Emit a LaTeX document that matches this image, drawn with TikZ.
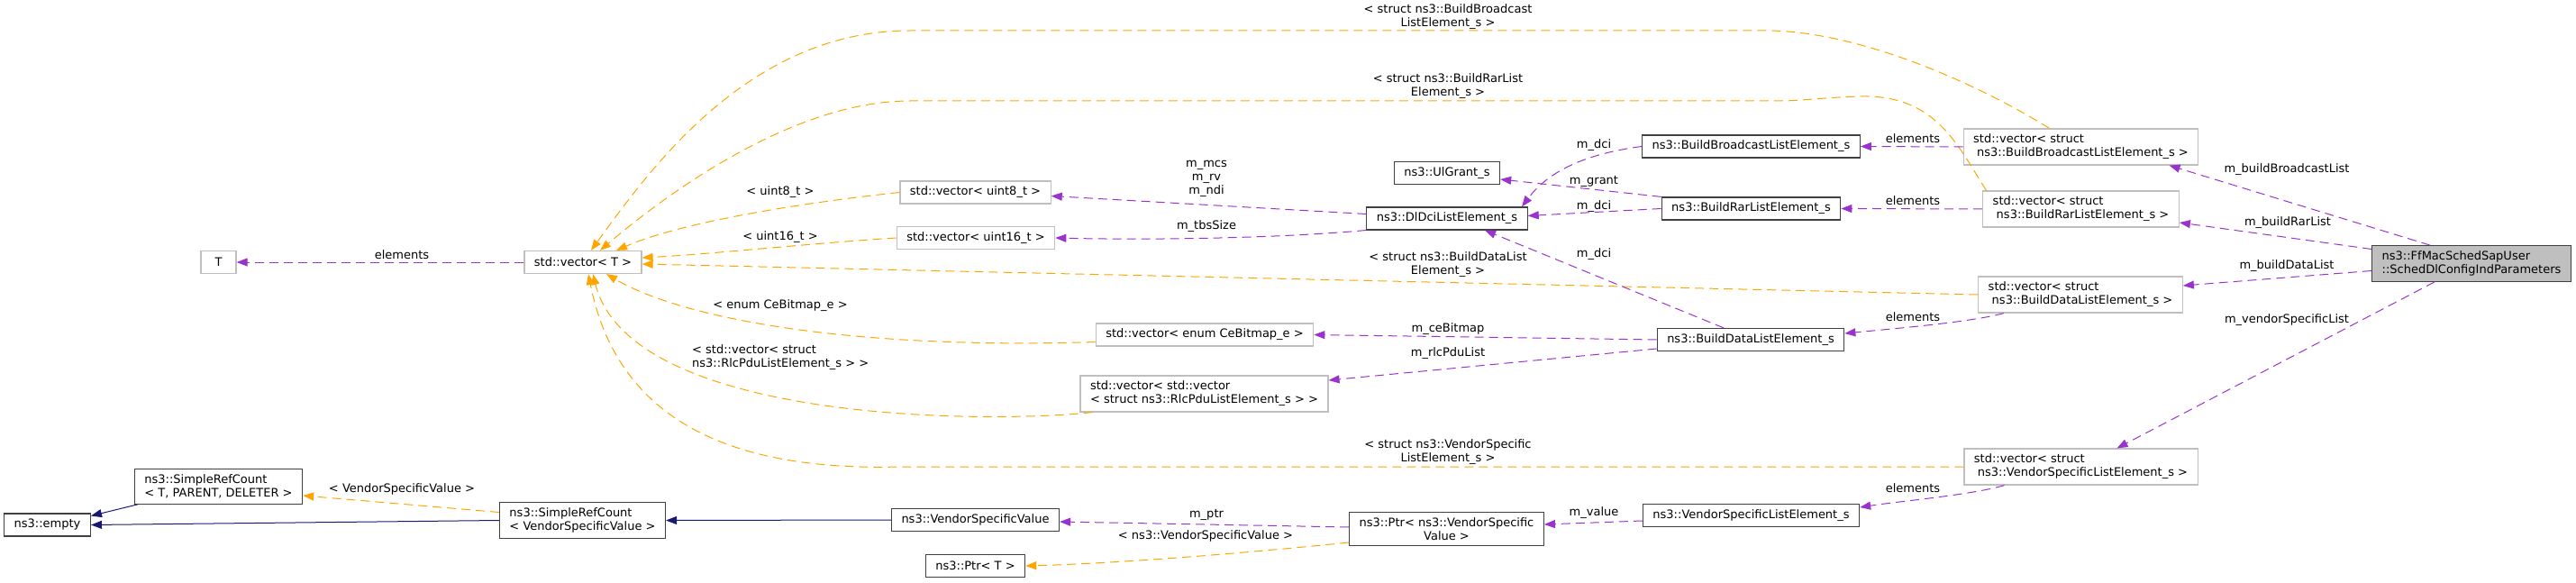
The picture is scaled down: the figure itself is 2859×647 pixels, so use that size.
\documentclass[tikz,border=0pt]{standalone}
\usepackage{fontspec}
\setmainfont{DejaVu Sans}
\usepackage{xcolor}
\usetikzlibrary{arrows.meta}

\definecolor{dxpurple}{HTML}{9A32CD}
\definecolor{dxorange}{HTML}{FFA500}
\definecolor{dxblue}{HTML}{191970}
\definecolor{dxgrey}{HTML}{BFBFBF}
\definecolor{dxdark}{HTML}{404040}

\begin{document}
\begin{tikzpicture}[x=1pt, y=-1pt, >={Triangle[length=12pt, width=9pt]},
    font=\fontsize{13}{15}\selectfont,
    boite/.style={draw=dxdark, line width=1.2pt, fill=white, inner xsep=11pt,
                  inner ysep=6pt, minimum height=25pt},
    gabarit/.style={boite, draw=dxgrey},
    racine/.style={boite, fill=dxgrey},
    membre/.style={->, dxpurple, line width=1pt, dash pattern=on 10pt off 6pt},
    modele/.style={->, dxorange, line width=1pt, dash pattern=on 10pt off 6pt},
    herite/.style={->, dxblue, line width=1pt},
    etiq/.style={inner sep=0pt, align=center}]
  \useasboundingbox (0,0) rectangle (2859,647);

  % Classes de base
  \node[boite] (vide) at (52.5,582.5) {ns3::empty};
  \node[boite, align=left] (srcT) at (242.5,540) {ns3::SimpleRefCount\\< T, PARENT, DELETER >};
  \node[gabarit, minimum width=39pt] (tT) at (242.5,291) {T};
  \node[gabarit] (vecT) at (647,291) {std::vector< T >};
  \node[boite, align=left] (srcVSV) at (646.5,577.5) {ns3::SimpleRefCount\\< VendorSpecificValue >};

  % Vecteurs simples
  \node[gabarit] (vecU8) at (1082.5,213.5) {std::vector< uint8\_t >};
  \node[gabarit] (vecU16) at (1083,264) {std::vector< uint16\_t >};
  \node[gabarit] (vecCe) at (1337,371.5) {std::vector< enum CeBitmap\_e >};
  \node[gabarit, align=left] (vecRlc) at (1336.5,437)
      {std::vector< std::vector\\< struct ns3::RlcPduListElement\_s > >};
  \node[boite] (vsv) at (1082.5,577) {ns3::VendorSpecificValue};
  \node[boite] (ptrT) at (1082.5,628) {ns3::Ptr< T >};

  % Structures
  \node[boite] (ulgrant) at (1606,192) {ns3::UlGrant\_s};
  \node[boite] (dldci) at (1606,242.5) {ns3::DlDciListElement\_s};
  \node[boite, align=center] (ptrVSV) at (1605.5,587) {ns3::Ptr< ns3::VendorSpecific\\Value >};
  \node[boite] (bbElem) at (1943.5,162.5) {ns3::BuildBroadcastListElement\_s};
  \node[boite] (brElem) at (1943.5,231.5) {ns3::BuildRarListElement\_s};
  \node[boite] (bdElem) at (1943,377) {ns3::BuildDataListElement\_s};
  \node[boite] (vsElem) at (1943.5,572) {ns3::VendorSpecificListElement\_s};

  % Listes
  \node[gabarit, align=left] (vecBB) at (2309.5,163)
      {std::vector< struct\\\hspace*{4pt}ns3::BuildBroadcastListElement\_s >};
  \node[gabarit, align=left] (vecBR) at (2309.5,232)
      {std::vector< struct\\\hspace*{4pt}ns3::BuildRarListElement\_s >};
  \node[gabarit, align=left] (vecBD) at (2309,327)
      {std::vector< struct\\\hspace*{4pt}ns3::BuildDataListElement\_s >};
  \node[gabarit, align=left] (vecVS) at (2309.5,518)
      {std::vector< struct\\\hspace*{4pt}ns3::VendorSpecificListElement\_s >};

  % Classe documentee
  \node[racine, align=left] (root) at (2743,292.5)
      {ns3::FfMacSchedSapUser\\::SchedDlConfigIndParameters};

  % Heritage
  \draw[herite] ([xshift=4pt]srcT.south west) -- ([yshift=10pt]vide.east);
  \draw[herite] (srcVSV.west) -- (vide.east);
  \draw[herite] (vsv.west) -- (srcVSV.east);

  % Instanciations de modeles
  \draw[modele] ([xshift=-35pt]vecBB.north) .. controls (2190,90) and (2060,34) .. (1960,34)
      -- (1010,34) .. controls (830,34) and (720,190) .. ([xshift=9pt]vecT.north);
  \draw[modele] ([xshift=-105pt]vecBR.north) .. controls (2172,160) and (2148,105) .. (2065,107)
      .. controls (2025,108) and (2000,112) .. (1975,112) -- (1010,112)
      .. controls (880,112) and (740,215) .. ([xshift=19pt]vecT.north);
  \draw[modele] (vecU8.west) .. controls (900,224) and (760,245) .. ([xshift=37pt]vecT.north);
  \draw[modele] (vecU16.west) .. controls (900,270) and (790,282) .. ([yshift=5pt]vecT.east);
  \draw[modele] (vecBD.west) -- ([yshift=-2pt]vecT.east);
  \draw[modele] ([yshift=-8pt]vecCe.west) .. controls (950,388) and (760,355) .. ([xshift=26pt]vecT.south);
  \draw[modele] ([xshift=-124pt]vecRlc.south) .. controls (1100,470) and (700,470) .. ([xshift=11pt]vecT.south);
  \draw[modele] (vecVS.west) -- (1000,518) .. controls (850,522) and (690,490) .. ([xshift=6pt]vecT.south);
  \draw[modele] ([yshift=-15pt]ptrVSV.west) .. controls (1400,612) and (1250,625) .. (ptrT.east);
  \draw[modele] ([yshift=9pt]srcVSV.west) -- ([yshift=-10pt]srcT.east);

  % Membres
  \draw[membre] (vecT.west) -- (tT.east);
  \draw[membre] ([xshift=-46pt]root.north) -- ([xshift=98pt]vecBB.south);
  \draw[membre] ([yshift=16pt]root.west) -- ([yshift=-15pt]vecBR.east);
  \draw[membre] ([yshift=-8pt]root.west) -- ([yshift=10pt]vecBD.east);
  \draw[membre] ([xshift=-41pt]root.south) -- ([xshift=40pt]vecVS.north);
  \draw[membre] (vecBB.west) -- (bbElem.east);
  \draw[membre] (vecBR.west) -- (brElem.east);
  \draw[membre] ([xshift=-85pt]vecBD.south) .. controls (2190,357) and (2110,364) .. ([yshift=7pt]bdElem.east);
  \draw[membre] ([xshift=-85pt]vecVS.south) .. controls (2190,549) and (2110,556) .. ([yshift=9pt]vsElem.east);
  \draw[membre] (bbElem.west) .. controls (1750,172) and (1715,195) .. ([xshift=83pt]dldci.north);
  \draw[membre] (brElem.north west) -- ([yshift=-7pt]ulgrant.east);
  \draw[membre] (brElem.west) -- ([yshift=3pt]dldci.east);
  \draw[membre] ([xshift=-30pt]bdElem.north) -- ([xshift=42pt]dldci.south);
  \draw[membre] (bdElem.west) -- (vecCe.east);
  \draw[membre] ([yshift=-10pt]bdElem.west) -- ([yshift=15pt]vecRlc.east);
  \draw[membre] ([yshift=5pt]dldci.west) -- ([yshift=-4pt]vecU8.east);
  \draw[membre] ([yshift=-13pt]dldci.west) .. controls (1400,266) and (1250,266) .. (vecU16.east);
  \draw[membre] ([yshift=-6pt]vsElem.west) -- ([yshift=5pt]ptrVSV.east);
  \draw[membre] ([yshift=2pt]ptrVSV.west) -- ([yshift=-2pt]vsv.east);

  % Etiquettes
  \node[etiq] (lbBB) at (1607,19) {< struct ns3::BuildBroadcast\\ListElement\_s >};
  \node[etiq] (lbBR) at (1607,96) {< struct ns3::BuildRarList\\Element\_s >};
  \node[etiq] (lbBD) at (1607,293.5) {< struct ns3::BuildDataList\\Element\_s >};
  \node[etiq] (lbVS) at (1607,501.5) {< struct ns3::VendorSpecific\\ListElement\_s >};
  \node[etiq] (lbU8) at (866,213) {< uint8\_t >};
  \node[etiq] (lbU16) at (866,263) {< uint16\_t >};
  \node[etiq] (lbCe) at (866,339) {< enum CeBitmap\_e >};
  \node[etiq, align=left, anchor=west] (lbRlc) at (768,397) {< std::vector< struct\\ns3::RlcPduListElement\_s > >};
  \node[etiq] (lbPtrT) at (1338,595) {< ns3::VendorSpecificValue >};
  \node[etiq] (lbSrc) at (446,543) {< VendorSpecificValue >};
  \node[etiq] (lbElT) at (446,283) {elements};
  \node[etiq] (lbMcs) at (1339,198) {m\_mcs\\m\_rv\\m\_ndi};
  \node[etiq] (lbTbs) at (1339,251) {m\_tbsSize};
  \node[etiq] (lbPtr) at (1339,571) {m\_ptr};
  \node[etiq] (lbDciA) at (1769,161) {m\_dci};
  \node[etiq] (lbGrant) at (1769,201) {m\_grant};
  \node[etiq] (lbDciB) at (1769,229) {m\_dci};
  \node[etiq] (lbDciC) at (1769,282) {m\_dci};
  \node[etiq] (lbCeM) at (1607,365) {m\_ceBitmap};
  \node[etiq] (lbRlcM) at (1607,392) {m\_rlcPduList};
  \node[etiq] (lbVal) at (1769,569) {m\_value};
  \foreach \y/\n in {154/A, 223/B, 352/C, 542/D}
    \node[etiq] (lbEl\n) at (2123,\y) {elements};
  \node[etiq] (lbRootA) at (2538,188) {m\_buildBroadcastList};
  \node[etiq] (lbRootB) at (2539,247) {m\_buildRarList};
  \node[etiq] (lbRootC) at (2538,295) {m\_buildDataList};
  \node[etiq] (lbRootD) at (2538,355) {m\_vendorSpecificList};
\end{tikzpicture}
\end{document}
